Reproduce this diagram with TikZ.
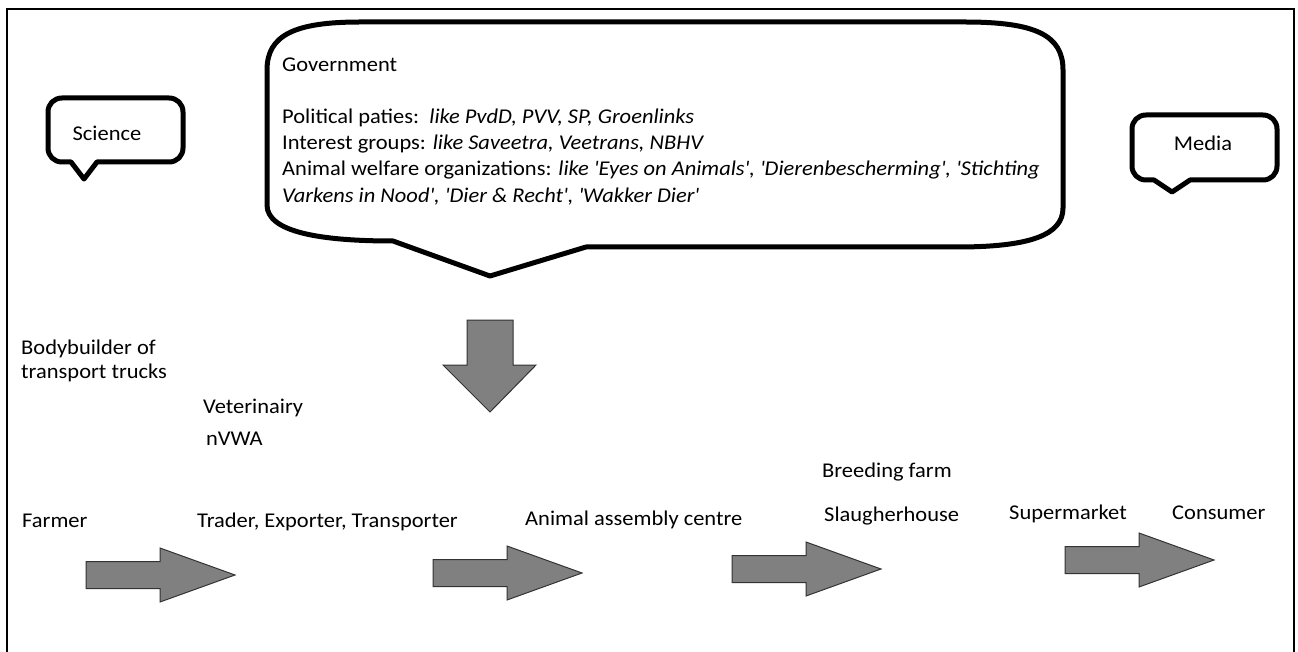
\documentclass[tikz,border=0pt]{standalone}
\usepackage{fontspec}
\setmainfont{Carlito}[FakeStretch=1.07]
\newcommand\myq{\textquotesingle}
\begin{document}
\begin{tikzpicture}[x=1pt,y=-1pt,
  font=\fontsize{21}{26}\selectfont,
  lbl/.style={anchor=base west, inner sep=0pt},
  clbl/.style={anchor=base, inner sep=0pt},
  bubble/.style={draw=black, line width=5pt, line join=round, fill=white},
  blockarrow/.style={draw=black!80, line width=1pt, line join=miter, fill=black!50},
  rarrow/.pic={\draw[blockarrow] (0,-13.5) -- (74,-13.5) -- (74,-27) -- (149,0) -- (74,27) -- (74,13.5) -- (0,13.5) -- cycle;}]

\useasboundingbox (0,0) rectangle (1298,652);
\draw[line width=1.5pt] (7,660) -- (7,9) -- (1294,9) -- (1294,660);

% Government callout
\draw[bubble] (360,22) -- (965,22) .. controls (1035,22) and (1063,35) .. (1063,70)
  -- (1063,208) .. controls (1063,235) and (1030,247) .. (957,247)
  -- (586,247) -- (490,276) -- (393,241)
  .. controls (320,241) and (267,232) .. (267,205)
  -- (267,70) .. controls (267,35) and (295,22) .. (360,22) -- cycle;

% Science callout
\draw[bubble] (62,98) -- (169,98) .. controls (177,98) and (183,104) .. (183,112)
  -- (183,148) .. controls (183,156) and (177,162) .. (169,162)
  -- (97,162) -- (84,179) -- (71,162) -- (62,162)
  .. controls (54,162) and (48,156) .. (48,148)
  -- (48,112) .. controls (48,104) and (54,98) .. (62,98) -- cycle;

% Media callout
\draw[bubble] (1146,115) -- (1263,115) .. controls (1271,115) and (1277,121) .. (1277,129)
  -- (1277,166) .. controls (1277,174) and (1271,180) .. (1263,180)
  -- (1190,180) -- (1172,192) -- (1154,180) -- (1146,180)
  .. controls (1138,180) and (1132,174) .. (1132,166)
  -- (1132,129) .. controls (1132,121) and (1138,115) .. (1146,115) -- cycle;

% texts in callouts
\node[lbl] (gov) at (282,72) {Government};
\node[lbl] (pol) at (282,124) {Political paties:\ \ \textit{like PvdD, PVV, SP, Groenlinks}};
\node[lbl] (int) at (282,150) {Interest groups: \textit{like Saveetra, Veetrans, NBHV}};
\node[lbl] (awo) at (282,176) {Animal welfare organizations: \textit{like \myq Eyes on Animals\myq, \myq Dierenbescherming\myq, \myq Stichting}};
\node[lbl] (awo2) at (282,203) {\textit{Varkens in Nood\myq, \myq Dier \& Recht\myq, \myq Wakker Dier\myq}};
\node[clbl] (sci) at (107,141) {Science};
\node[clbl] (med) at (1203,151) {Media};

% down arrow
\draw[blockarrow] (467,320) -- (513,320) -- (513,365) -- (536,365) -- (490,412) -- (443,365) -- (467,365) -- cycle;

% actors
\node[lbl] (body1) at (21,354) {Bodybuilder of};
\node[lbl] (body2) at (21,378) {transport trucks};
\node[lbl] (vet) at (203,413) {Veterinairy};
\node[lbl] (nvwa) at (206,445) {nVWA};
\node[lbl] (farmer) at (22,527) {Farmer};
\node[lbl] (trader) at (197,527) {Trader, Exporter, Transporter};
\node[lbl] (assembly) at (525,525) {Animal assembly centre};
\node[lbl] (breeding) at (822,477) {Breeding farm};
\node[lbl] (slaughter) at (824,521) {Slaugherhouse};
\node[lbl] (super) at (1009,519) {Supermarket};
\node[lbl] (consumer) at (1172,519) {Consumer};

% chain arrows
\pic at (86,575) {rarrow};
\pic at (433,573) {rarrow};
\pic at (732,569) {rarrow};
\pic at (1065,560) {rarrow};
\end{tikzpicture}
\end{document}
